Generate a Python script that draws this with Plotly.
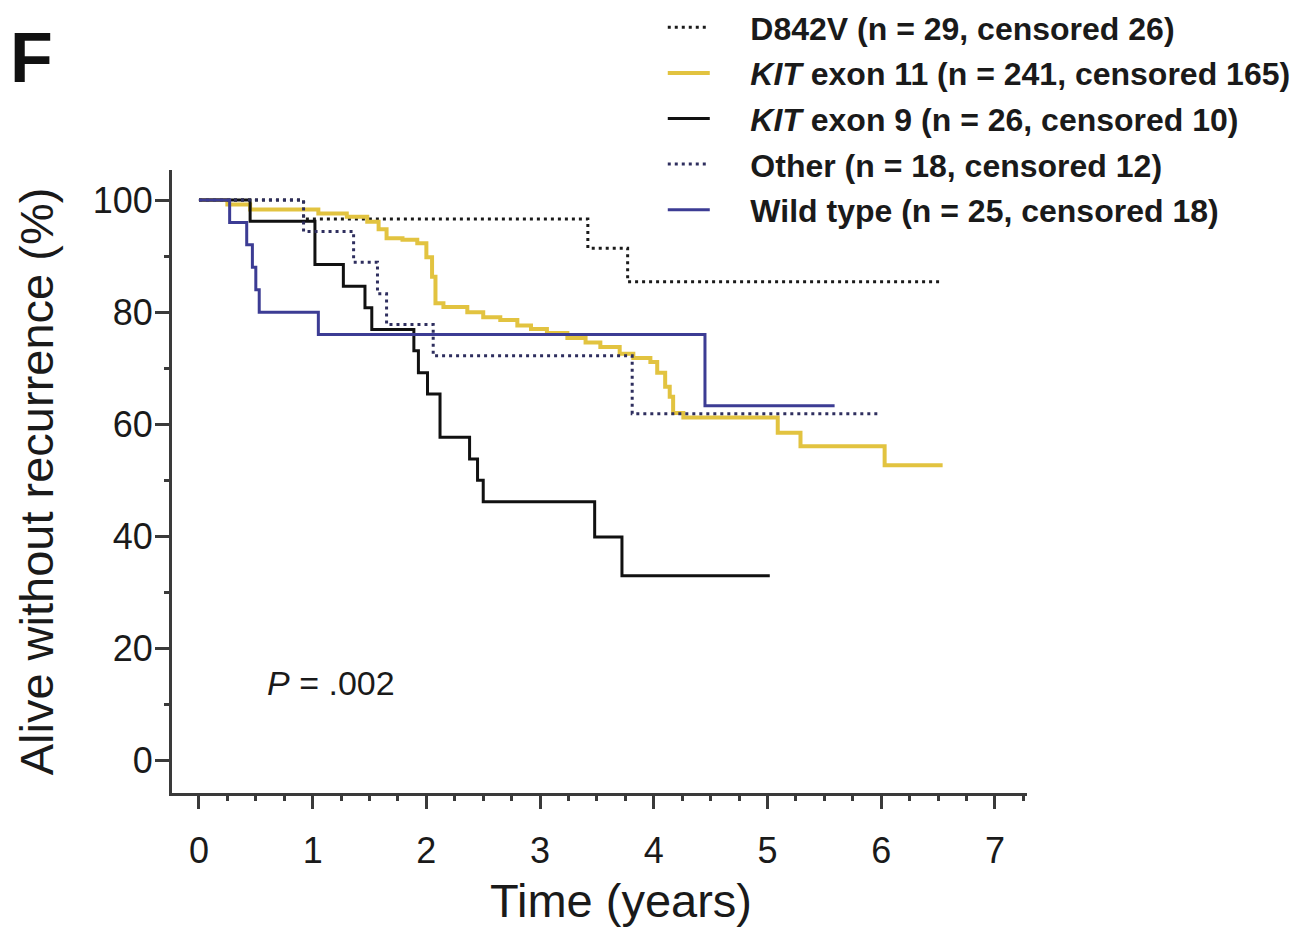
import plotly.graph_objects as go

# ---- data ----
d842v_t = [0, 0.92, 3.42, 3.77, 6.54]
d842v_s = [100, 96.6, 91.4, 85.4, 85.4]

kit11_t = [0, 0.25, 0.45, 1.05, 1.30, 1.48, 1.58, 1.65, 1.79, 1.92, 2.00, 2.05, 2.08, 2.15,
           2.36, 2.50, 2.65, 2.80, 2.92, 3.06, 3.24, 3.40, 3.53, 3.70, 3.82, 3.97, 4.03,
           4.10, 4.14, 4.17, 4.26, 5.09, 5.29, 6.03, 6.54]
kit11_s = [100, 99.2, 98.3, 97.6, 97.0, 96.1, 94.8, 93.2, 92.9, 92.3, 89.8, 86.3, 81.6, 80.9,
           80.0, 79.1, 78.6, 77.6, 77.0, 76.3, 75.4, 74.6, 73.8, 72.6, 71.8, 71.1, 69.2,
           66.7, 64.9, 62.0, 61.2, 58.5, 56.1, 52.7, 52.7]

kit9_t = [0, 0.45, 1.02, 1.27, 1.46, 1.52, 1.89, 1.93, 2.01, 2.12, 2.38, 2.45, 2.50, 3.48, 3.72, 5.02]
kit9_s = [100, 96.2, 88.5, 84.6, 80.8, 76.9, 73.1, 69.2, 65.4, 57.7, 53.8, 50.0, 46.2, 39.9, 33.0, 33.0]

other_t = [0, 0.92, 1.36, 1.57, 1.65, 2.06, 3.81, 6.00]
other_s = [100, 94.4, 88.9, 83.3, 77.8, 72.2, 61.9, 61.9]

wild_t = [0, 0.27, 0.42, 0.47, 0.50, 0.53, 1.05, 4.45, 5.59]
wild_s = [100, 96, 92, 88, 84, 80, 76, 63.3, 63.3]

names = [
    "D842V (n = 29, censored 26)",
    "<i>KIT</i> exon 11 (n = 241, censored 165)",
    "<i>KIT</i> exon 9 (n = 26, censored 10)",
    "Other (n = 18, censored 12)",
    "Wild type (n = 25, censored 18)",
]

x_ticks = [0, 1, 2, 3, 4, 5, 6, 7]
y_ticks = [0, 20, 40, 60, 80, 100]

FONT = "Liberation Sans, Arial, Helvetica, sans-serif"
PAD = "&nbsp;" * 4

series = [
    (d842v_t, d842v_s, names[0], dict(color="#1a1a1a", width=3, dash="3px,4px")),
    (kit11_t, kit11_s, names[1], dict(color="#E2C340", width=4)),
    (kit9_t, kit9_s, names[2], dict(color="#111111", width=3)),
    (other_t, other_s, names[3], dict(color="#2E2E5E", width=3, dash="3px,4px")),
    (wild_t, wild_s, names[4], dict(color="#3C3C94", width=3)),
]

fig = go.Figure()
for i, (t, s, nm, ln) in enumerate(series):
    fig.add_trace(go.Scatter(x=t, y=s, mode="lines", name=PAD + "<b>" + nm + "</b>",
                             line=dict(shape="hv", **ln),
                             legendgroup=f"g{i}", hoverinfo="skip"))

fig.update_layout(
    width=1301, height=937,
    margin=dict(l=172, r=274, t=170, b=144, autoexpand=False),
    paper_bgcolor="white", plot_bgcolor="white",
    font=dict(family=FONT, color="#1a1a1a"),
    showlegend=True,
    legend=dict(x=0.574, y=1.0, xref="paper", yref="container", xanchor="left", yanchor="top",
                font=dict(size=32, family=FONT, color="#1a1a1a"),
                itemwidth=42, tracegroupgap=1, bgcolor="rgba(0,0,0,0)"),
    xaxis=dict(range=[-0.237, 7.282], tickvals=x_ticks, ticktext=[str(v) for v in x_ticks],
               showgrid=False, zeroline=False, showline=True, linecolor="#3a3a3a", linewidth=3,
               ticks="outside", ticklen=13, tickwidth=3, tickcolor="#3a3a3a",
               tickfont=dict(size=36, family=FONT), ticklabelstandoff=11,
               minor=dict(dtick=0.25, tick0=0, ticks="outside", ticklen=5, tickwidth=3, tickcolor="#3a3a3a")),
    yaxis=dict(range=[-5.76, 105.35], tickvals=y_ticks, ticktext=[str(v) for v in y_ticks],
               showgrid=False, zeroline=False, showline=True, linecolor="#3a3a3a", linewidth=3,
               ticks="outside", ticklen=14, tickwidth=3, tickcolor="#3a3a3a",
               tickfont=dict(size=36, family=FONT), ticklabelstandoff=-5,
               minor=dict(dtick=10, tick0=0, ticks="outside", ticklen=5, tickwidth=3, tickcolor="#3a3a3a"),
               title=dict(text="Alive without recurrence (%)", font=dict(size=47, family=FONT), standoff=25)),
    annotations=[
        dict(text="<b>F</b>", xref="paper", yref="paper", x=-0.1915, y=1.18,
             xanchor="left", yanchor="middle", showarrow=False, font=dict(size=70, family=FONT, color="#111")),
        dict(text="<i>P</i> = .002", xref="x", yref="y", x=0.58, y=13.9,
             xanchor="left", yanchor="middle", showarrow=False, font=dict(size=34, family=FONT, color="#1a1a1a")),
        dict(text="Time (years)", xref="paper", yref="paper", x=(621 - 172) / 855, y=(793 - 900) / 623,
             xanchor="center", yanchor="middle", showarrow=False, font=dict(size=47, family=FONT, color="#1a1a1a")),
    ],
)

fig.write_html("out.html")
